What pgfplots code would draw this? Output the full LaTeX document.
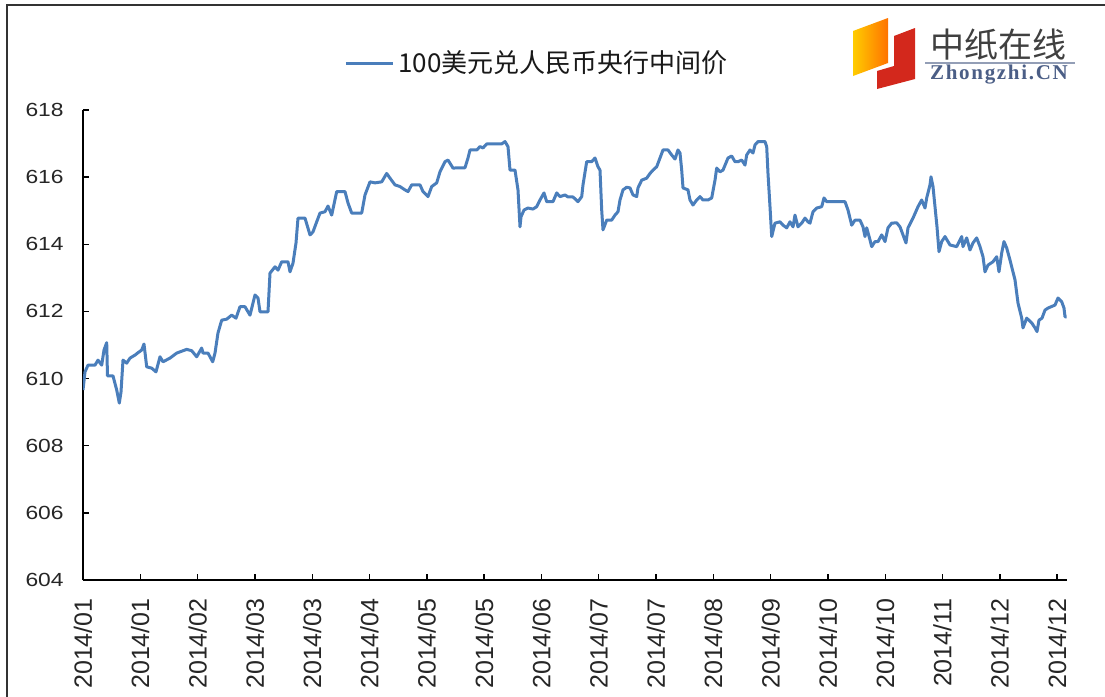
\documentclass[border=0pt]{standalone}
\usepackage{pgfplots}
\pgfplotsset{compat=1.18}
\usepackage{pgfplotstable}
\usepackage{fontspec}
\setmainfont{Liberation Sans}
\newfontfamily\yfont{Liberation Sans}[FakeStretch=1.2]
\newfontfamily\cjk{Noto Sans CJK SC}
\newfontfamily\logoserif{Liberation Serif}[LetterSpace=8]
\definecolor{lineblue}{HTML}{4A7EBB}
\definecolor{logored}{HTML}{D3281C}
\definecolor{logoblue}{HTML}{4B5E86}

\pgfplotstableread{
x v
0 609.66
2 610.20
5 610.40
12 610.40
15 610.55
18.7 610.40
21 610.85
23.7 611.07
24.5 610.08
30 610.08
33.7 609.66
36.3 609.27
38 609.60
40 610.55
43.7 610.46
47 610.61
52 610.70
55 610.77
58.7 610.85
61 611.03
63.7 610.35
68.7 610.31
73 610.20
77 610.65
80 610.50
87 610.61
93.7 610.76
103.7 610.87
108.7 610.83
113.7 610.65
118.7 610.91
120 610.76
125 610.76
129.7 610.50
132 610.76
135 611.36
138.7 611.74
143.7 611.77
148.7 611.89
153 611.80
157 612.14
162 612.14
167 611.89
172 612.49
175 612.40
177 611.99
185 611.99
187 613.14
192 613.33
195 613.23
198.7 613.48
205 613.48
207 613.18
210 613.44
213 614.04
215 614.78
222 614.78
227 614.28
230 614.37
233.7 614.67
237 614.93
242 614.97
245 615.14
248.7 614.87
253.7 615.57
262 615.57
265 615.23
268.7 614.93
278.7 614.93
282 615.47
287 615.86
292 615.83
298.7 615.86
303.7 616.11
307 615.97
312 615.77
317 615.72
322 615.62
325 615.57
328.7 615.77
337 615.77
340 615.57
345 615.42
348.7 615.72
353.7 615.83
357 616.16
362 616.46
365 616.51
370 616.27
377 616.28
382 616.28
385 616.57
387 616.81
393.7 616.81
397 616.91
400 616.87
403.7 616.99
410 616.99
418.7 616.99
422 617.06
425 616.91
427 616.21
432 616.21
435 615.62
437 614.52
438 614.82
441 615.02
445 615.08
450 615.05
453.7 615.12
457 615.32
461 615.53
463.7 615.27
470 615.27
473.7 615.53
477 615.42
482 615.47
485 615.41
490 615.41
495 615.27
498.7 615.42
500 615.77
503.7 616.46
508.7 616.46
512 616.57
515 616.31
517 616.21
518.7 615.02
520 614.43
523.7 614.72
528.7 614.72
532 614.87
535 614.97
537 615.32
540 615.62
543.7 615.70
547 615.68
550 615.47
553.7 615.42
555 615.68
558.7 615.91
563.7 615.97
567 616.11
570 616.21
573.7 616.31
577 616.57
580 616.81
585 616.81
588.7 616.66
592 616.54
595 616.81
597 616.72
598.7 616.21
600 615.68
605 615.62
607 615.32
610 615.17
613.7 615.32
617 615.42
620 615.32
625 615.32
628.7 615.38
632 615.91
633.7 616.27
637 616.16
640 616.21
645 616.57
648.7 616.63
652 616.46
655 616.46
658.7 616.51
662 616.36
663.7 616.66
667 616.81
670 616.72
672 616.96
675 617.06
682 617.06
683.7 616.91
685 616.11
687 615.12
688.7 614.23
692 614.63
697 614.67
700 614.57
703.7 614.49
707 614.67
710 614.52
712 614.87
715 614.52
718.7 614.63
722 614.78
725 614.67
727 614.63
730 614.97
733.7 615.08
738.7 615.12
741 615.38
743.7 615.27
762 615.27
765 615.02
768.7 614.57
772 614.72
777 614.72
780 614.52
782 614.23
783.7 614.49
787 614.13
788.7 613.93
792 614.08
795 614.08
798.7 614.28
802 614.08
805 614.49
808.7 614.63
813.7 614.64
817 614.52
820 614.28
823 614.04
825 614.49
830 614.78
835 615.12
838.7 615.32
842 615.08
843.7 615.38
847 615.77
848 616.01
850 615.72
852 615.12
854 614.52
856 613.78
858.7 614.08
862 614.23
867 613.98
873.7 613.93
877 614.13
878.7 614.23
880 613.93
883.7 614.19
887 613.83
890 614.04
893.7 614.19
897 613.93
900 613.63
902 613.18
905 613.38
910 613.48
913.7 613.63
916 613.18
918.7 613.74
921 614.08
923.7 613.89
927 613.53
932 612.94
935 612.25
938.7 611.80
940 611.51
943.7 611.80
948.7 611.66
952 611.51
954 611.40
956 611.74
959 611.80
962 612.04
965 612.10
972 612.19
975 612.40
978.7 612.29
981 612.10
982 611.84
983.7 611.84
}\ratedata

\begin{document}
\begin{tikzpicture}
\useasboundingbox (0pt,0pt) rectangle (552.5pt,-348.5pt);
\fill[white] (0pt,0pt) rectangle (552.5pt,-348.5pt);
\begin{axis}[
  at={(41.5pt,-290pt)}, anchor=south west,
  scale only axis, width=492pt, height=235pt,
  xmin=0, xmax=984, ymin=604, ymax=618,
  ytick={604,606,...,618},
  xtick={0,57.3,114.6,171.9,229.2,286.5,343.8,401.1,458.4,515.7,573,630.3,687.6,744.9,802.2,859.5,916.8,974.1},
  xticklabels={2014/01,2014/01,2014/02,2014/03,2014/03,2014/04,2014/05,2014/05,2014/06,2014/07,2014/07,2014/08,2014/09,2014/10,2014/10,2014/11,2014/12,2014/12},
  axis x line*=bottom, axis y line*=left,
  axis line style={-, black, line width=0.7pt},
  tick align=inside, major tick length=3pt,
  tick style={black, line width=0.7pt},
  /pgf/number format/assume math mode=true,
  yticklabel style={font=\yfont\fontsize{9.5}{10}\selectfont, text=black!85, anchor=east, inner ysep=0pt, inner xsep=9.5pt},
  xticklabel style={font=\fontsize{12.5}{13}\selectfont, text=black!85, rotate=90, anchor=east, inner ysep=0pt, inner xsep=9pt},
  legend style={at={(0.4625,1.1)}, anchor=center, draw=none, fill=none,
    font=\cjk\fontsize{13}{14}\selectfont, text=black!90,
    /tikz/every even column/.append style={column sep=0pt}},
  legend image code/.code={\draw[#1] (0pt,0pt) -- (23.5pt,0pt);},
]
\addplot[lineblue, line width=1.5pt, line join=round] table[x=x, y=v] {\ratedata};
\addlegendentry{100美元兑人民币央行中间价}
\end{axis}
\begin{scope}[x=0.5pt,y=-0.5pt]
% frame
\draw[black!80, line width=1.2pt] (7,697) -- (7,5) -- (1105,5);
% logo
\shade[left color=yellow!60!orange, right color=orange!90!red] (853,31) -- (888,18) -- (888,63) -- (853,76) -- cycle;
\fill[logored] (894,36) -- (915,28) -- (915,79) -- (877,89) -- (877,71) -- (894,66) -- cycle;
\node[font=\cjk\fontsize{17}{18}\selectfont, text=black!75, inner sep=0pt] at (998,45) {中纸在线};
\draw[logoblue!60, line width=0.6pt] (925,63) -- (1075,63);
\node[font=\logoserif\bfseries\fontsize{10.5}{11}\selectfont, text=logoblue, inner sep=0pt] at (999,75) {Zhongzhi.CN};
\end{scope}
\end{tikzpicture}
\end{document}
